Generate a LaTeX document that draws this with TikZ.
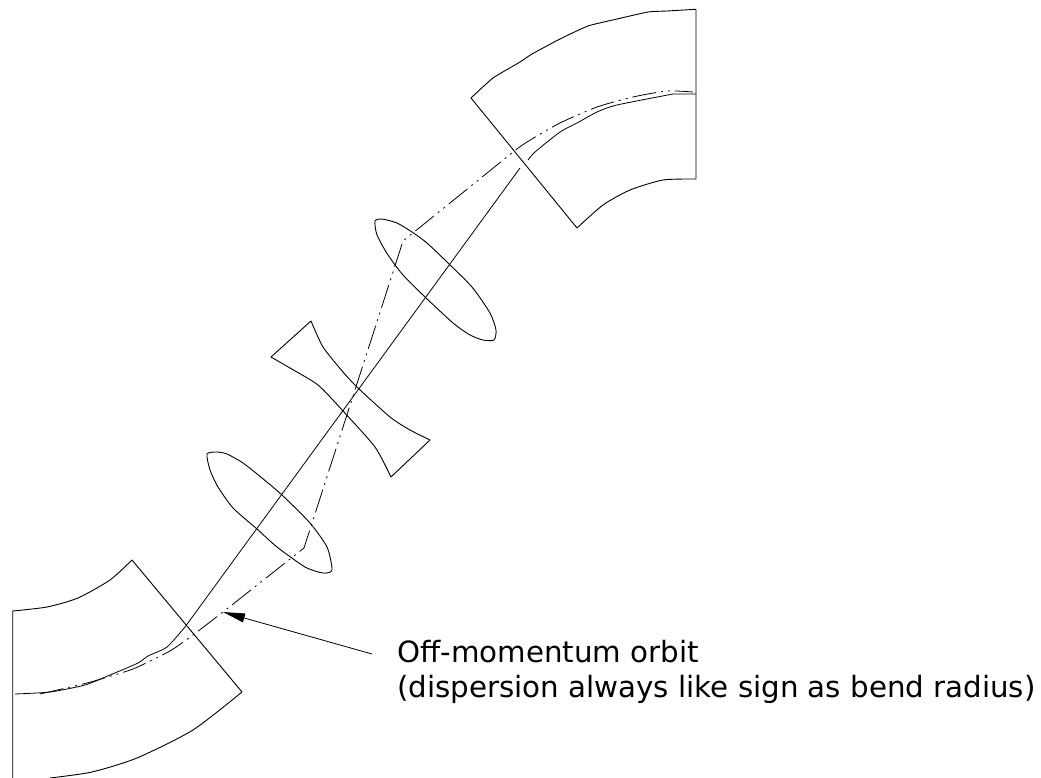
\documentclass[tikz,border=0pt]{standalone}
\usepackage{fontspec}
\setmainfont{DejaVu Sans}
\usetikzlibrary{arrows.meta}

\begin{document}
\begin{tikzpicture}[
x=1pt, y=-1pt,
outline/.style={line width=0.9pt, line join=round},
orbit/.style={line width=0.8pt, line join=round},
offorbit/.style={line width=0.8pt, line join=round, dash pattern=on 24pt off 5pt on 2pt off 5pt on 2pt off 5pt},
leader/.style={-{Triangle[length=22pt, width=9pt]}, line width=0.8pt},
label/.style={font=\fontsize{29.3}{35}\selectfont, align=left, inner sep=0pt, anchor=north west}
]
\useasboundingbox (0,0) rectangle (1041,778);
% lower bend
\draw[outline] (12.7,778) -- (12.7,611) -- plot[smooth, tension=0.4] coordinates {(12.7,611) (47,607) (78,598) (110,580) (132,560)} -- (242,692) -- plot[smooth, tension=0.4] coordinates {(242,692) (193,730) (137,758) (92,772) (50,778)};
% upper bend
\draw[outline] (696,9.3) -- (696,179) -- plot[smooth, tension=0.4] coordinates {(696,179) (663,180) (630,190) (603,205) (577,228)} -- (471,98) -- plot[smooth, tension=0.3] coordinates {(471,98) (493,78) (520,62) (532,54) (560,39) (588,26) (617,19) (648,12) (667,11) (696,9.3)};
% quadrupoles
\draw[outline] plot[smooth cycle, tension=0.4] coordinates {(207,454) (217,452) (227,454) (243,463) (262,478) (282,495) (310,523) (327,547) (332,570) (323,573) (305,567) (277,547) (257,529) (233,508) (218,487) (210,470)};
\draw[outline] plot[smooth cycle, tension=0.4] coordinates {(375,221) (382,219) (397,223) (412,232) (427,243) (448,263) (472,287) (490,313) (496,330) (494,340) (483,340) (470,335) (453,323) (425,297) (403,275) (388,255) (377,235)};
\draw[outline] plot[smooth, tension=0.4] coordinates {(311,321) (323,347) (343,372) (358,388) (390,417) (410,430) (430,440)} -- (391,477) -- plot[smooth, tension=0.4] coordinates {(391,477) (375,447) (343,411) (318,385) (290,368) (271,357)} -- cycle;
% reference orbit
\draw[orbit] plot[smooth, tension=0.4] coordinates {(15,694) (50,692) (85,685) (110,675) (138,663) (148,656) (167,647) (185,627)} -- (520,168);
\draw[orbit] plot[smooth, tension=0.4] coordinates {(528,160) (535,152) (560,132) (577,123) (597,112) (617,105) (673,94)} -- (696,94);
% off-momentum orbit
\draw[offorbit] plot[smooth, tension=0.3] coordinates {(40,694) (87,683) (133,669) (170,651) (193,635) (223,612)} -- (304,548) -- (403,241) -- (513,152) -- plot[smooth, tension=0.4] coordinates {(513,152) (527,142) (560,123) (597,107) (633,97) (667,91) (693,92)};
% label
\node[label] (note) at (397,640) {Off-momentum orbit\\(dispersion always like sign as bend radius)};
\coordinate (leaderstart) at (372,654);
\coordinate (leaderend) at (223,612);
\draw[leader] (leaderstart) -- (leaderend);
\end{tikzpicture}
\end{document}
